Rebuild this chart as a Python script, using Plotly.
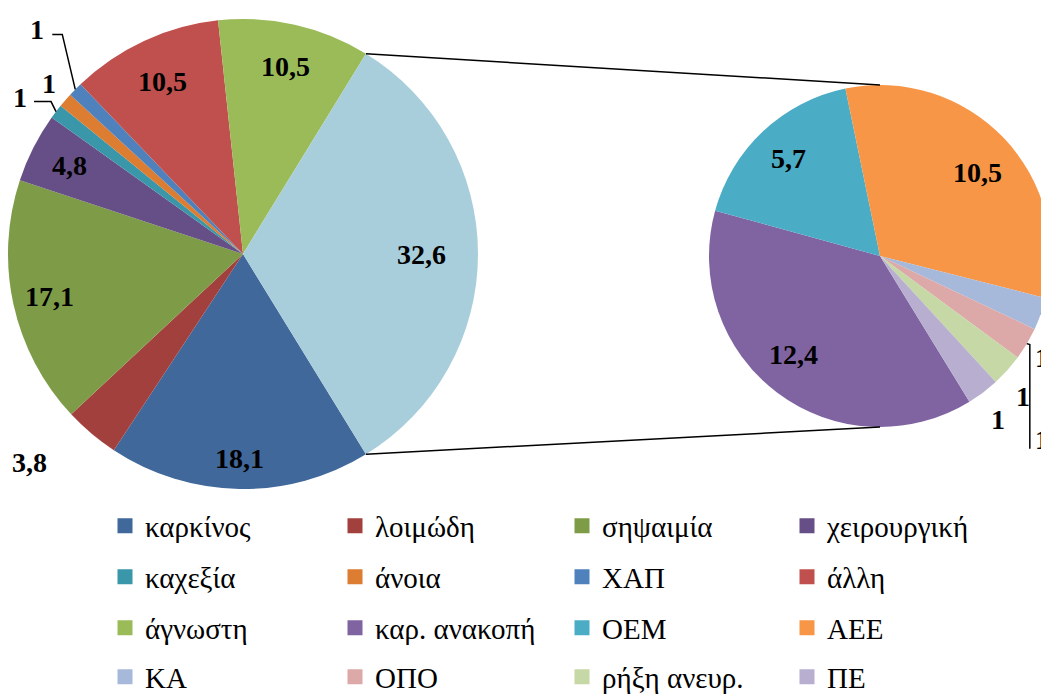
import math
import plotly.graph_objects as go

W, H = 1049, 698
OFF = 8  # the page places the figure 8 px right / down of the window corner

# ---------------- data ----------------
main_labels = ["καρκίνος", "λοιμώδη", "σηψαιμία", "χειρουργική", "καχεξία",
               "άνοια", "ΧΑΠ", "άλλη", "άγνωστη"]
main_values = [18.1, 3.8, 17.1, 4.8, 1, 1, 1, 10.5, 10.5]
other_value = 32.6

sub_labels = ["καρ. ανακοπή", "ΟΕΜ", "ΑΕΕ", "ΚΑ", "ΟΠΟ", "ρήξη ανευρ.", "ΠΕ"]
sub_values = [12.4, 5.7, 10.5, 1, 1, 1, 1]

# ---------------- style ----------------
main_colors = ["#41689A", "#A2403E", "#7E9C48", "#654F86", "#3A96A9",
               "#DC7D31", "#4F81BD", "#C0504D", "#9BBB59"]
other_color = "#A9CEDB"
sub_colors = ["#8064A2", "#4BACC6", "#F79646", "#A7B9DB", "#DCA8A8",
              "#C5D8A6", "#B7AED0"]

FONT = "Liberation Serif"
LAB_SIZE = 28
LEG_SIZE = 29

# pie geometry in window pixels (centre, radius)
MCX, MCY, MR = 243, 254, 235
SCX, SCY, SR = 880, 256, 171


def fmt(v):
    s = f"{v:.1f}".replace(".", ",")
    return s[:-2] if s.endswith(",0") else s


def paper(x, y):
    return (x - OFF) / W, 1 - (y - OFF) / H


def dom(cx, cy, r):
    x0, y1 = paper(cx - r, cy - r)
    x1, y0 = paper(cx + r, cy + r)
    return dict(x=[max(0, x0), min(1, x1)], y=[max(0, y0), min(1, y1)])


def spans(vals, start):
    tot = sum(vals)
    a = start
    out = []
    for v in vals:
        s = 360 * v / tot
        out.append((a, a + s))
        a += s
    return out


def pt(cx, cy, r, ang):
    t = math.radians(ang)
    return cx + r * math.sin(t), cy - r * math.cos(t)


main_all_vals = main_values + [other_value]
rot = 90 + 180 * other_value / sum(main_all_vals)

fig = go.Figure()

fig.add_trace(go.Pie(
    values=main_all_vals, labels=main_labels + ["άλλα"],
    marker=dict(colors=main_colors + [other_color], line=dict(width=0)),
    sort=False, direction="clockwise", rotation=rot,
    textinfo="none", hoverinfo="skip", showlegend=False,
    domain=dom(MCX, MCY, MR)))

fig.add_trace(go.Pie(
    values=sub_values, labels=[l + " " for l in sub_labels],
    marker=dict(colors=sub_colors, line=dict(width=0)),
    sort=False, direction="clockwise", rotation=rot,
    textinfo="none", hoverinfo="skip", showlegend=False,
    domain=dom(SCX, SCY, SR)))

annotations = []
shapes = []


def add_label(text, x, y, xanchor="center"):
    px, py = paper(x, y)
    annotations.append(dict(text=text, x=px, y=py, xref="paper", yref="paper",
                            showarrow=False, xanchor=xanchor, yanchor="middle",
                            font=dict(family=FONT, size=LAB_SIZE, color="black",
                                      weight="bold")))


def add_path(points):
    d = ""
    for i, (x, y) in enumerate(points):
        px, py = paper(x, y)
        d += ("M" if i == 0 else " L") + f"{px:.5f},{py:.5f}"
    shapes.append(dict(type="path", path=d, xref="paper", yref="paper",
                       line=dict(color="black", width=1.5)))


# ---- main pie labels ----
main_frac = [0.87, 1.27, 0.845, 0.83, None, None, None, 0.81, 0.82, 0.76]
main_dth = [0, 5.5, 0, 0, 0, 0, 0, 0, 0, 0]
msp = spans(main_all_vals, rot)
for i, (a0, a1) in enumerate(msp):
    if main_frac[i] is None:
        continue
    x, y = pt(MCX, MCY, MR * main_frac[i], (a0 + a1) / 2 + main_dth[i])
    add_label(fmt(main_all_vals[i]), x, y)

# small slices of the main pie: label offsets and leader paths (pixels)
small_main = {
    4: dict(lab=(-36, -14), path=[(-22, -10), (-5, -10), (0, 0)]),
    5: dict(lab=(-16, -17), path=None),
    6: dict(lab=(-38, -60), path=[(-23, -55), (-13, -55), (0, 0)]),
}
for i, cfg in small_main.items():
    a0, a1 = msp[i]
    ex, ey = pt(MCX, MCY, MR, (a0 + a1) / 2)
    add_label(fmt(main_values[i]), ex + cfg["lab"][0], ey + cfg["lab"][1])
    if cfg["path"]:
        add_path([(ex + dx, ey + dy) for dx, dy in cfg["path"]])

# ---- secondary pie labels ----
sub_frac = [0.77, 0.78, 0.75, None, None, None, None]
sub_dth = [4.4, 0, 3, 0, 0, 0, 0]
ssp = spans(sub_values, rot)
for i, (a0, a1) in enumerate(ssp):
    if sub_frac[i] is None:
        continue
    x, y = pt(SCX, SCY, SR * sub_frac[i], (a0 + a1) / 2 + sub_dth[i])
    add_label(fmt(sub_values[i]), x, y)

small_sub = {
    3: dict(lab=(-8, 44), anchor="left", path=[(0, 0), (4, 0), (4, 22)]),
    4: dict(lab=(6, 96), anchor="left", path=[(0, 0), (3, 1), (3, 105)]),
    5: dict(lab=(16, 26), anchor="center", path=None),
    6: dict(lab=(15, 27), anchor="center", path=None),
}
for i, cfg in small_sub.items():
    a0, a1 = ssp[i]
    ex, ey = pt(SCX, SCY, SR, (a0 + a1) / 2)
    add_label(fmt(sub_values[i]), ex + cfg["lab"][0], ey + cfg["lab"][1],
              xanchor=cfg["anchor"])
    if cfg["path"]:
        add_path([(ex + dx, ey + dy) for dx, dy in cfg["path"]])

# ---- connector lines between the pies ----
top_main = pt(MCX, MCY, MR, msp[-1][0])
bot_main = pt(MCX, MCY, MR, msp[-1][1])
top_sub = pt(SCX, SCY, SR, 0)
bot_sub = pt(SCX, SCY, SR, 180)
add_path([top_main, top_sub])
add_path([bot_main, bot_sub])

# ---- legend (one legend per entry, laid out on a 4x4 grid) ----
legend_labels = main_labels + sub_labels
legend_colors = main_colors + sub_colors
col_x = [125, 355, 582, 807]   # square centres (window px)
row_y = [526, 577, 628, 677]
layout_legends = {}
for k, (lab, col) in enumerate(zip(legend_labels, legend_colors)):
    name = "legend" if k == 0 else f"legend{k + 1}"
    fig.add_trace(go.Scatter(x=[None], y=[None], mode="markers", name=lab,
                             marker=dict(symbol="square", size=15, color=col),
                             showlegend=True, legend=name, hoverinfo="skip"))
    r, c = divmod(k, 4)
    lx, ly = paper(col_x[c] - 20, row_y[r])
    layout_legends[name] = dict(x=lx, y=ly, xanchor="left", yanchor="middle",
                                bgcolor="rgba(0,0,0,0)", borderwidth=0,
                                font=dict(family=FONT, size=LEG_SIZE,
                                          color="black"))

fig.update_layout(
    width=W, height=H,
    margin=dict(l=0, r=0, t=0, b=0, autoexpand=False),
    paper_bgcolor="white", plot_bgcolor="white",
    font=dict(family=FONT, color="black"),
    xaxis=dict(visible=False), yaxis=dict(visible=False),
    annotations=annotations, shapes=shapes,
    **layout_legends,
)

fig.write_html("out.html")
